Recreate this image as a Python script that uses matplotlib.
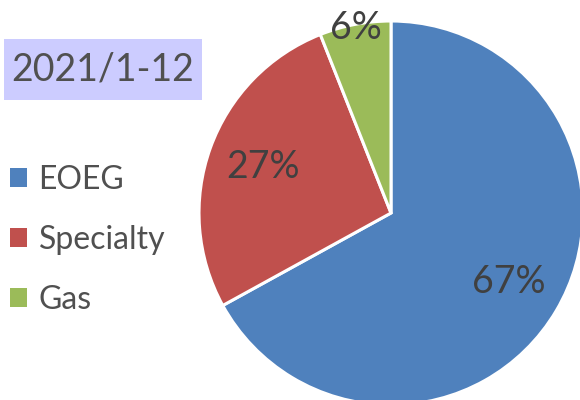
import matplotlib.pyplot as plt
from matplotlib.patches import Rectangle
import numpy as np

# data
categories = ['EOEG', 'Specialty', 'Gas']
shares = [67, 27, 6]
colors = ['#4F81BD', '#C0504D', '#9BBB59']
title_text = '2021/1-12'

plt.rcParams['font.family'] = ['Lato', 'DejaVu Sans']
text_color = '#505050'

fig = plt.figure(figsize=(5.8, 4.0), dpi=100)
ax = fig.add_axes([0, 0, 1, 1])

# pie drawn in pixel-like coordinates
wedges, texts, autotexts = ax.pie(
    shares, colors=colors, startangle=90, counterclock=False,
    center=(391, 187), radius=192, frame=True,
    autopct='%1.0f%%', pctdistance=0.71,
    wedgeprops={'edgecolor': 'white', 'linewidth': 2.2},
    textprops={'fontsize': 27, 'color': '#404040'})

# small slice label sits on the rim
w = wedges[2]
mid = np.deg2rad((w.theta1 + w.theta2) / 2)
autotexts[2].set_position((391 + 192 * 0.98 * np.cos(mid), 187 + 192 * 0.98 * np.sin(mid)))

ax.set_xlim(0, 580)
ax.set_ylim(0, 400)
ax.set_aspect('equal')
ax.axis('off')

# title box
ax.add_patch(Rectangle((4, 300), 198, 61, facecolor='#CCCCFF', edgecolor='none'))
ax.text(103, 330, title_text, fontsize=27, color=text_color, ha='center', va='center')

leg = ax.legend(wedges, categories, loc='center left', bbox_to_anchor=(0.017, 0.4),
                frameon=False, fontsize=23, handlelength=0.55, handleheight=0.55,
                handletextpad=0.35, labelspacing=0.94, borderpad=0, borderaxespad=0,
                labelcolor=text_color)
for h in leg.legend_handles:
    h.set_linewidth(0)

fig.savefig('out.png', dpi=100)
